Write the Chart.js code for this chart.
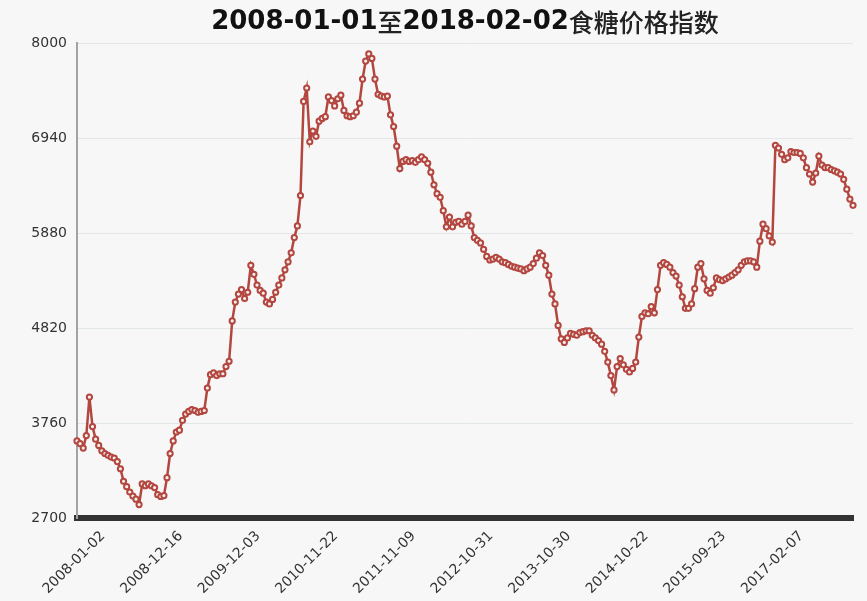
<!DOCTYPE html>
<html>
<head>
<meta charset="utf-8">
<script src="https://cdn.jsdelivr.net/npm/chart.js@4.4.1/dist/chart.umd.min.js"></script>
<style>
  html, body { margin: 0; padding: 0; background: #f7f7f7; }
  #box { width: 867px; height: 601px; position: relative; }
</style>
</head>
<body>
<div id="box"><canvas id="sugarChart"></canvas></div>
<script>
// tick labels shown under the x axis (one every 25 points)
const tickLabels = ['2008-01-02', '2008-12-16', '2009-12-03', '2010-11-22', '2011-11-09',
                    '2012-10-31', '2013-10-30', '2014-10-22', '2015-09-23', '2017-02-07'];

// sugar price index
const indexValues = [
  3560, 3530, 3480, 3620, 4050, 3720, 3580, 3510, 3450, 3420,
  3400, 3380, 3370, 3330, 3250, 3110, 3050, 2990, 2945, 2910,
  2850, 3080, 3060, 3080, 3060, 3040, 2960, 2940, 2950, 3150,
  3420, 3560, 3660, 3680, 3790, 3860, 3890, 3910, 3900, 3880,
  3890, 3900, 4150, 4300, 4320, 4290, 4310, 4310, 4390, 4450,
  4900, 5110, 5200, 5250, 5150, 5220, 5520, 5420, 5300, 5240,
  5210, 5110, 5090, 5140, 5220, 5300, 5380, 5470, 5560, 5660,
  5830, 5960, 6300, 7350, 7500, 6900, 7020, 6960, 7130, 7160,
  7180, 7400, 7360, 7300, 7380, 7420, 7250, 7190, 7180, 7190,
  7230, 7330, 7600, 7800, 7880, 7830, 7600, 7430, 7410, 7400,
  7410, 7200, 7070, 6850, 6600, 6680, 6700, 6680, 6690, 6670,
  6700, 6730, 6700, 6660, 6560, 6420, 6320, 6280, 6130, 5950,
  6060, 5950, 6000, 6010, 5980, 6010, 6080, 5960, 5830, 5800,
  5770, 5700, 5620, 5580, 5590, 5610, 5590, 5560, 5550, 5530,
  5510, 5500, 5490, 5480, 5460, 5480, 5500, 5540, 5600, 5660,
  5630, 5520, 5410, 5200, 5090, 4850, 4700, 4660, 4710, 4760,
  4750, 4740, 4770, 4780, 4790, 4790, 4740, 4710, 4680, 4640,
  4560, 4440, 4290, 4130, 4390, 4480, 4410, 4360, 4330, 4370,
  4440, 4720, 4950, 4990, 4980, 5060, 4990, 5250, 5520, 5550,
  5530, 5500, 5440, 5400, 5300, 5170, 5040, 5040, 5090, 5260,
  5500, 5540, 5370, 5240, 5210, 5270, 5380, 5360, 5350, 5370,
  5390, 5410, 5440, 5470, 5520, 5560, 5570, 5570, 5560, 5500,
  5790, 5980, 5930, 5850, 5780, 6860, 6830, 6760, 6700, 6720,
  6790, 6780, 6780, 6770, 6720, 6610, 6540, 6450, 6550, 6740,
  6640, 6610, 6610, 6590, 6575, 6560, 6540, 6480, 6370, 6260,
  6190
];

const yTicks = [2700, 3760, 4820, 5880, 6940, 8000];

const titleText = '2008-01-01至2018-02-02食糖价格指数';

const labelStep = 25;
const gridStep = 50;

// category list: a date at every labelStep-th point, blank otherwise
const categories = indexValues.map((v, i) =>
  (i % labelStep === 0 && tickLabels[i / labelStep]) ? tickLabels[i / labelStep] : '');

const lineColor = '#b3473f';

// the title mixes bold latin digits with regular-weight chinese, so draw it in runs
const mixedTitle = {
  id: 'mixedTitle',
  afterDraw(chart) {
    const c = chart.ctx;
    const tb = chart.titleBlock;
    const y = (tb.top + tb.bottom) / 2 + 1;
    const runs = titleText.split(/([\u4e00-\u9fff]+)/).filter(s => s.length);
    const fontFor = (s) => /[\u4e00-\u9fff]/.test(s)
      ? '500 25px "Noto Sans CJK SC"'
      : 'bold 26px "DejaVu Sans"';
    c.save();
    let total = 0;
    runs.forEach(s => { c.font = fontFor(s); total += c.measureText(s).width; });
    let x = (chart.chartArea.left + chart.chartArea.right) / 2 - total / 2;
    c.textBaseline = 'middle';
    c.textAlign = 'left';
    runs.forEach(s => {
      c.font = fontFor(s);
      c.fillStyle = /[\u4e00-\u9fff]/.test(s) ? '#222' : '#111';
      c.fillText(s, x, y);
      x += c.measureText(s).width;
    });
    c.restore();
  }
};

const ctx = document.getElementById('sugarChart').getContext('2d');
const myChart = new Chart(ctx, {
  type: 'line',
  data: {
    labels: categories,
    datasets: [{
      data: indexValues,
      borderColor: lineColor,
      borderWidth: 2.5,
      pointRadius: 2.6,
      pointBorderWidth: 2,
      pointBorderColor: lineColor,
      pointBackgroundColor: '#f4eeee',
      tension: 0,
      fill: false
    }]
  },
  plugins: [mixedTitle],
  options: {
    responsive: true,
    maintainAspectRatio: false,
    animation: false,
    layout: { padding: { left: 0, right: 14, top: 0, bottom: 0 } },
    plugins: {
      legend: { display: false },
      tooltip: { enabled: false },
      title: {
        // keeps the space; text itself is painted by mixedTitle
        display: true,
        fullSize: false,
        text: titleText,
        color: 'rgba(0,0,0,0)',
        font: { family: 'DejaVu Sans', weight: 'bold', size: 26 },
        padding: { top: 6, bottom: 6 }
      }
    },
    scales: {
      x: {
        type: 'category',
        offset: false,
        grid: {
          color: (c) => (c.index % gridStep === 0 ? '#e1e6e6' : 'rgba(0,0,0,0)'),
          lineWidth: 1,
          drawTicks: false
        },
        border: { color: '#333', width: 6 },
        ticks: {
          autoSkip: false,
          maxRotation: 45,
          minRotation: 45,
          labelOffset: 26,
          padding: 10,
          color: '#333',
          font: { family: 'DejaVu Sans', size: 14 },
          callback: function (val, i) {
            return categories[i] || null;
          }
        },
        afterFit: (s) => { s.height = 83; }
      },
      y: {
        min: 2700,
        max: 8000,
        afterBuildTicks: (s) => { s.ticks = yTicks.map(v => ({ value: v })); },
        grid: { color: '#e1e6e6', lineWidth: 1, drawTicks: false },
        border: { color: '#a3a3a3', width: 2 },
        ticks: {
          padding: 10,
          color: '#333',
          font: { family: 'DejaVu Sans', size: 14 },
          callback: (v) => String(v)
        },
        afterFit: (s) => { s.width = 77; }
      }
    }
  }
});
</script>
</body>
</html>
